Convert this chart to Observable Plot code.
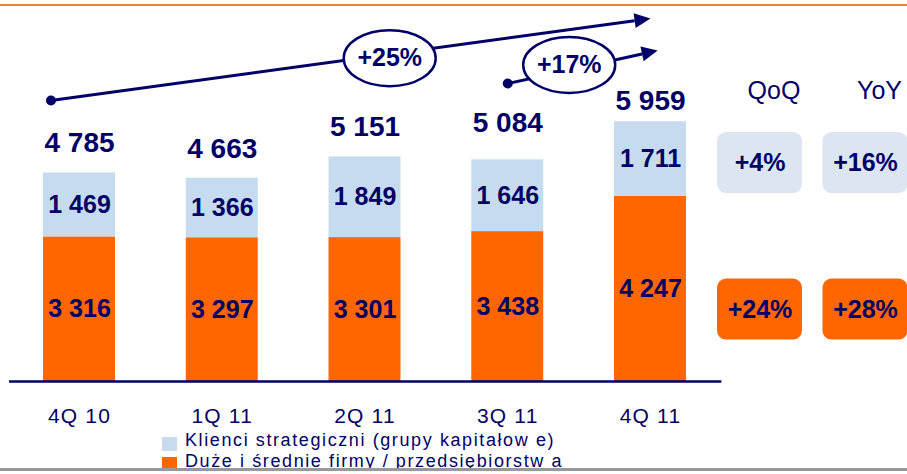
<!DOCTYPE html>
<html>
<head>
<meta charset="utf-8">
<script src="https://cdn.jsdelivr.net/npm/d3@7"></script>
<script src="https://cdn.jsdelivr.net/npm/@observablehq/plot@0.6"></script>
<style>
  html, body { margin: 0; padding: 0; background: #fff; }
  #wrap { position: relative; width: 907px; height: 474px; overflow: hidden; background: #fff; font-family: Arial, "Liberation Sans", sans-serif; }
  #topline { position: absolute; left: 0; top: 4px; width: 907px; height: 2px; background: #F5822A; }
  #bottomline { position: absolute; left: 0; top: 468px; width: 907px; height: 3px; background: #999; z-index: 3; }
  #bottomwhite { position: absolute; left: 0; top: 471px; width: 907px; height: 3px; background: #fff; z-index: 3; }
  #chart { position: absolute; left: 0; top: 0; }
  .leg { position: absolute; left: 162px; height: 21px; font-size: 18px; line-height: 21px; letter-spacing: 1.6px; color: #000066; white-space: nowrap; }
  .leg .sw { position: absolute; left: 0; width: 15px; height: 14px; }
  .leg .lab { position: absolute; left: 23px; top: 0; }
  text[aria-label="quarter label"] { letter-spacing: 1.2px; }
</style>
</head>
<body>
<div id="wrap">
  <div id="chart"></div>
  <div id="legend"></div>
  <div id="topline"></div>
  <div id="bottomline"></div>
  <div id="bottomwhite"></div>
</div>
<script>
// ---- data ----
const quarters = ["4Q 10", "1Q 11", "2Q 11", "3Q 11", "4Q 11"];
const strategic = [1469, 1366, 1849, 1646, 1711];
const midsize = [3316, 3297, 3301, 3438, 4247];
const totals = ["4 785", "4 663", "5 151", "5 084", "5 959"];
const seriesNames = ["Klienci strategiczni (grupy kapitałow e)", "Duże i średnie firmy / przedsiębiorstw a"];
const growthCols = ["QoQ", "YoY"];
const growthStrategic = ["+4%", "+16%"];
const growthMidsize = ["+24%", "+28%"];
const trendFrom = ["4Q 10", "3Q 11"];
const trendTo = ["4Q 11", "4Q 11"];
const trendLabels = ["+25%", "+17%"];

// ---- styling / layout ----
const NAVY = "#000066";
const LIGHT = "#C6DBEF";
const ORANGE = "#FF6600";
const BOXLIGHT = "#DCE6F2";
const W = 907, H = 430, MB = 49;
const K = 0.0436;        // px per unit
const PITCH = 142.75;    // px per category
const X0 = 79;           // px of first category
const HALF = 0.252;      // half bar width (category units)
const totalDy = [-30, -29, -30, -37, -21];
const fmt = v => d3.format(",")(v).replace(/,/g, " ");

const idx = q => quarters.indexOf(q);

// stacked rows
const rows = quarters.flatMap((q, i) => [
  {i, series: seriesNames[1], y1: 0, y2: midsize[i], v: midsize[i]},
  {i, series: seriesNames[0], y1: midsize[i], y2: midsize[i] + strategic[i], v: strategic[i]}
]);

// trend arrows (annotation layout in data units)
const arrowStart = [{dx: -0.2, y: 6445}, {dx: 0, y: 6835}];
const arrowEnd = [{dx: 0, y: 8326}, {dx: 0.05, y: 7592}];
const labelT = [0.565, 0.41];
const labelDy = [4, -5];
const HEADL = 16, HEADW = 15;
const arrows = trendLabels.map((label, j) => {
  const x1 = idx(trendFrom[j]) + arrowStart[j].dx, y1 = arrowStart[j].y;
  const x2 = idx(trendTo[j]) + arrowEnd[j].dx, y2 = arrowEnd[j].y;
  const sx = (x2 - x1) * PITCH, sy = -(y2 - y1) * K;
  const len = Math.hypot(sx, sy), ux = sx / len, uy = sy / len;
  const xb = x2 - HEADL * ux / PITCH, yb = y2 + HEADL * uy / K;
  const t = labelT[j];
  return {label, x1, y1, x2: xb, y2: yb, ux, uy,
          lx: x1 + t * (x2 - x1), ly: y1 + t * (y2 - y1) - labelDy[j] / K};
});
const headSymbol = (ux, uy) => ({
  draw(ctx) {
    const px = -uy, py = ux;
    ctx.moveTo(HEADL * ux, HEADL * uy);
    ctx.lineTo(px * HEADW / 2, py * HEADW / 2);
    ctx.lineTo(-px * HEADW / 2, -py * HEADW / 2);
    ctx.closePath();
  }
});
const ellipseSymbol = {
  draw(ctx) {
    const rx = 46, ry = 28, c = 0.5523;
    ctx.moveTo(rx, 0);
    ctx.bezierCurveTo(rx, ry * c, rx * c, ry, 0, ry);
    ctx.bezierCurveTo(-rx * c, ry, -rx, ry * c, -rx, 0);
    ctx.bezierCurveTo(-rx, -ry * c, -rx * c, -ry, 0, -ry);
    ctx.bezierCurveTo(rx * c, -ry, rx, -ry * c, rx, 0);
    ctx.closePath();
  }
};

// growth boxes
const colX = [4.767, 5.506];
const BOXHW = 42.5 / PITCH, BOXHH = 30.5 / K;
const boxCenters = [5011, 1651];
const boxes = [
  ...growthCols.map((c, j) => ({x: colX[j], y: boxCenters[0], text: growthStrategic[j], fill: BOXLIGHT})),
  ...growthCols.map((c, j) => ({x: colX[j], y: boxCenters[1], text: growthMidsize[j], fill: ORANGE}))
];

const plot = Plot.plot({
  width: W, height: H,
  marginTop: 0, marginBottom: MB, marginLeft: 0, marginRight: 0,
  x: {type: "linear", domain: [-X0 / PITCH, (W - X0) / PITCH], axis: null},
  y: {domain: [0, (H - MB) / K], axis: null},
  color: {domain: seriesNames, range: [LIGHT, ORANGE]},
  style: {fontFamily: "Arial, 'Liberation Sans', sans-serif", background: "transparent", overflow: "visible"},
  marks: [
    Plot.rect(rows, {x1: d => d.i - HALF, x2: d => d.i + HALF, y1: "y1", y2: "y2", fill: "series"}),
    Plot.text(rows, {x: "i", y: d => (d.y1 + d.y2) / 2, text: d => fmt(d.v), fill: NAVY, fontWeight: "bold", fontSize: 25}),
    Plot.text(quarters, {x: (d, i) => i, y: (d, i) => midsize[i] + strategic[i] - totalDy[i] / K, text: (d, i) => totals[i], fill: NAVY, fontWeight: "bold", fontSize: 28}),
    Plot.ruleY([0], {x1: -0.49, x2: quarters.length - 0.5, stroke: NAVY, strokeWidth: 2.5}),
    Plot.text(quarters, {x: (d, i) => i, y: 0, dy: 35, text: d => d, fill: NAVY, fontSize: 21, ariaLabel: () => "quarter label"}),
    // trend arrows
    Plot.link(arrows, {x1: "x1", y1: "y1", x2: "x2", y2: "y2", stroke: NAVY, strokeWidth: 3}),
    Plot.dot(arrows, {x: "x1", y: "y1", r: 5, fill: NAVY}),
    ...arrows.map(a => Plot.dot([a], {x: "x2", y: "y2", r: 6, fill: NAVY, symbol: headSymbol(a.ux, a.uy)})),
    Plot.dot(arrows, {x: "lx", y: "ly", r: 10, fill: "white", stroke: NAVY, strokeWidth: 2.5, symbol: ellipseSymbol}),
    Plot.text(arrows, {x: "lx", y: "ly", text: "label", fill: NAVY, fontWeight: "bold", fontSize: 25}),
    // growth panel
    Plot.text(growthCols, {x: (d, j) => colX[j] + 14 / PITCH, y: 6674, text: d => d, fill: NAVY, fontSize: 25}),
    Plot.rect(boxes, {x1: d => d.x - BOXHW, x2: d => d.x + BOXHW, y1: d => d.y - BOXHH, y2: d => d.y + BOXHH, fill: d => d.fill, rx: 9}),
    Plot.text(boxes, {x: "x", y: "y", text: "text", fill: NAVY, fontWeight: "bold", fontSize: 25})
  ]
});
document.getElementById("chart").appendChild(plot);

// legend (HTML, below the SVG)
const legend = document.getElementById("legend");
const legTops = [430, 451];
const legSw = [7, 6];
const legColors = [LIGHT, ORANGE];
seriesNames.forEach((name, j) => {
  const row = document.createElement("div");
  row.className = "leg";
  row.style.top = legTops[j] + "px";
  row.innerHTML = `<div class="sw" style="top:${legSw[j]}px;background:${legColors[j]}"></div><div class="lab"></div>`;
  row.querySelector(".lab").textContent = name;
  legend.appendChild(row);
});
</script>
</body>
</html>
